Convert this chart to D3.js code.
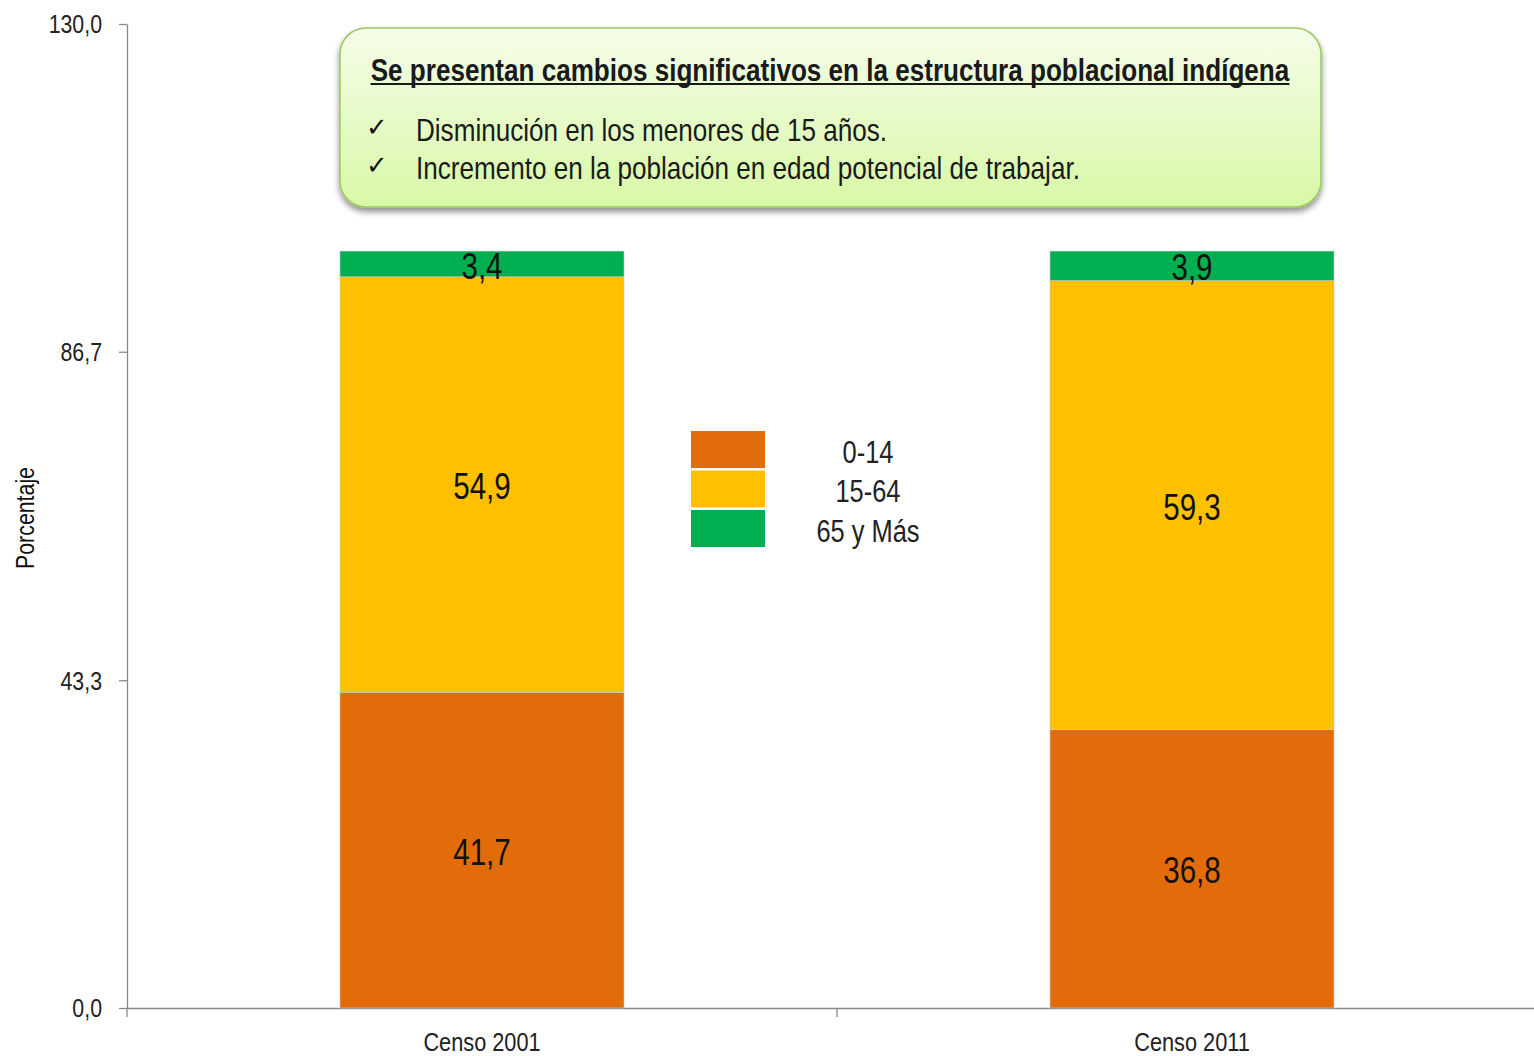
<!DOCTYPE html>
<html><head><meta charset="utf-8">
<script src="https://cdn.jsdelivr.net/npm/d3@7"></script>
<style>
body{margin:0;background:#fff;}
svg{display:block;font-family:"Liberation Sans",Arial,sans-serif;}
</style></head>
<body><svg id="c" width="1534" height="1056"></svg>
<script>
const categories = ["Censo 2001", "Censo 2011"];
const seriesNames = ["0-14", "15-64", "65 y Más"];
const values014 = [41.7, 36.8];
const values1564 = [54.9, 59.3];
const values65 = [3.4, 3.9];
const labels014 = ["41,7", "36,8"];
const labels1564 = ["54,9", "59,3"];
const labels65 = ["3,4", "3,9"];
const yTicks = [0, 43.3, 86.7, 130];
const yTickLabels = ["0,0", "43,3", "86,7", "130,0"];
const colors = ["#E36C0A", "#FFC000", "#00B050"];
const calloutTitle = "Se presentan cambios significativos en la estructura poblacional indígena";
const calloutBullets = ["Disminución en los menores de 15 años.", "Incremento en la población en edad potencial de trabajar."];

(function () {
const svg = d3.select("#c");
const NARROW = 0.82;
function narrow(sel) {
  sel.each(function () {
    const w = this.getComputedTextLength();
    if (w > 0) d3.select(this).attr("textLength", w * NARROW).attr("lengthAdjust", "spacingAndGlyphs");
  });
  return sel;
}
const mLeft = 127, mTop = 24, mBottom = 1008, mRight = 1547;
const x = d3.scaleBand().domain(categories).range([mLeft, mRight]).paddingInner(0.6).paddingOuter(0.3);
const y = d3.scaleLinear().domain([0, 130]).range([mBottom, mTop]);

// y axis
const yAxis = svg.append("g").attr("transform", `translate(${mLeft},0)`)
  .call(d3.axisLeft(y).tickValues(yTicks).tickFormat((d, i) => yTickLabels[i]).tickSize(8).tickSizeOuter(0));
yAxis.select(".domain").attr("stroke", "#888").attr("stroke-width", 1.3);
yAxis.selectAll(".tick line").attr("stroke", "#888").attr("stroke-width", 1.3);
yAxis.selectAll(".tick text").attr("font-size", 26).attr("fill", "#222").attr("x", -25).attr("dy", "0.34em")
  .attr("font-family", "Liberation Sans, Arial, sans-serif");
narrow(yAxis.selectAll(".tick text"));

// x axis
const xAxis = svg.append("g").attr("transform", `translate(0,${mBottom})`)
  .call(d3.axisBottom(x).tickSize(0).tickSizeOuter(0));
xAxis.select(".domain").attr("stroke", "#888").attr("stroke-width", 1.3);
xAxis.selectAll(".tick text").attr("font-size", 26.5).attr("fill", "#222").attr("dy", 0).attr("y", 43)
  .attr("font-family", "Liberation Sans, Arial, sans-serif");
narrow(xAxis.selectAll(".tick text"));
const boundaries = [mLeft, (x(categories[0]) + x.bandwidth() + x(categories[1])) / 2];
svg.append("g").selectAll("line").data(boundaries).join("line")
  .attr("x1", d => d).attr("x2", d => d).attr("y1", mBottom).attr("y2", mBottom + 9)
  .attr("stroke", "#888").attr("stroke-width", 1.3);

// stacked data
const rows = categories.map((c, i) => ({cat: c, s0: values014[i], s1: values1564[i], s2: values65[i]}));
const stack = d3.stack().keys(["s0", "s1", "s2"])(rows);
const labelSets = [labels014, labels1564, labels65];

stack.forEach((layer, k) => {
  const g = svg.append("g");
  g.selectAll("rect").data(layer).join("rect")
    .attr("x", d => x(d.data.cat)).attr("width", x.bandwidth())
    .attr("y", d => y(d[1])).attr("height", d => y(d[0]) - y(d[1]))
    .attr("fill", colors[k]).attr("stroke", "#c8c8c8").attr("stroke-width", 0.6);
  const t = g.selectAll("text").data(layer).join("text")
    .attr("x", d => x(d.data.cat) + x.bandwidth() / 2)
    .attr("y", d => (y(d[0]) + y(d[1])) / 2 + 2)
    .attr("dy", "0.35em").attr("text-anchor", "middle")
    .attr("font-size", 36).attr("fill", "#111")
    .text((d, i) => labelSets[k][i]);
  narrow(t);
});

// legend
const legend = svg.append("g");
seriesNames.forEach((n, i) => {
  legend.append("rect").attr("x", 691).attr("y", 431 + i * 39.5).attr("width", 74).attr("height", 37).attr("fill", colors[i]);
  const t = legend.append("text").attr("x", 868).attr("y", 452 + i * 39.5).attr("dy", "0.35em").attr("text-anchor", "middle")
    .attr("font-size", 31).attr("fill", "#222").text(n);
  narrow(t);
});

// y label
narrow(svg.append("text").attr("transform", "translate(25,518) rotate(-90)").attr("text-anchor", "middle")
  .attr("dy", "0.35em").attr("font-size", 26).attr("fill", "#111").text("Porcentaje"));

// callout
const defs = svg.append("defs");
const grad = defs.append("linearGradient").attr("id", "cg").attr("x1", 0).attr("y1", 0).attr("x2", 0).attr("y2", 1);
grad.append("stop").attr("offset", "0%").attr("stop-color", "#f5fdea");
grad.append("stop").attr("offset", "100%").attr("stop-color", "#d8f8a6");
const filt = defs.append("filter").attr("id", "sh").attr("x", "-5%").attr("y", "-10%").attr("width", "110%").attr("height", "130%");
filt.append("feGaussianBlur").attr("in", "SourceAlpha").attr("stdDeviation", 3);
filt.append("feOffset").attr("dx", 0).attr("dy", 4).attr("result", "ob");
filt.append("feComponentTransfer").append("feFuncA").attr("type", "linear").attr("slope", 0.45);
const fm = filt.append("feMerge"); fm.append("feMergeNode"); fm.append("feMergeNode").attr("in", "SourceGraphic");

svg.append("rect").attr("x", 340).attr("y", 28).attr("width", 981).attr("height", 179).attr("rx", 26)
  .attr("fill", "url(#cg)").attr("stroke", "#9bc85a").attr("stroke-width", 1.5).attr("filter", "url(#sh)");
const title = svg.append("text").attr("x", 830).attr("y", 70).attr("dy", "0.35em").attr("text-anchor", "middle")
  .attr("font-size", 31.8).attr("font-weight", "bold").attr("fill", "#1a1a1a").text(calloutTitle);
narrow(title);
const tb = title.node().getBBox();
svg.append("line").attr("x1", 830 - tb.width / 2).attr("x2", 830 + tb.width / 2)
  .attr("y1", 84).attr("y2", 84).attr("stroke", "#1a1a1a").attr("stroke-width", 2.2);
calloutBullets.forEach((b, i) => {
  svg.append("text").attr("x", 366).attr("y", 127 + i * 38).attr("dy", "0.35em").attr("font-size", 26)
    .attr("font-family", "DejaVu Sans, sans-serif").attr("fill", "#111").text("✓");
  narrow(svg.append("text").attr("x", 416).attr("y", 130 + i * 38).attr("dy", "0.35em").attr("font-size", 31.8)
    .attr("fill", "#1a1a1a").text(b));
});
})();
</script></body></html>
